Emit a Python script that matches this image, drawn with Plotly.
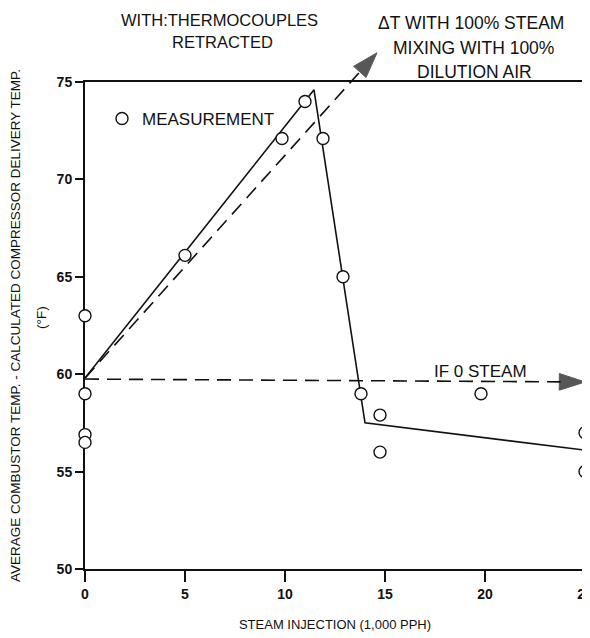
import plotly.graph_objects as go

# ---------------- data ----------------
meas_x = [0, 0, 0, 0, 5.0, 9.85, 11.0, 11.9, 12.9, 13.8, 14.75, 14.75, 19.8, 25, 25]
meas_y = [63.0, 59.0, 56.9, 56.5, 66.1, 72.1, 74.0, 72.1, 65.0, 59.0, 57.9, 56.0, 59.0, 57.0, 55.0]

trend_x = [0, 11.45, 14.0, 25]
trend_y = [59.8, 74.6, 57.5, 56.1]

mix_x = [0, 14.6]          # dT with 100% steam mixing with 100% dilution air
mix_y = [59.8, 76.5]

zero_x = [0, 25]           # if 0 steam
zero_y = [59.75, 59.6]

x_ticks = [0, 5, 10, 15, 20, 25]
y_ticks = [50, 55, 60, 65, 70, 75]
x_range = [0, 25]
y_range = [50, 75]

x_title = "STEAM INJECTION (1,000 PPH)"
y_title = "AVERAGE COMBUSTOR TEMP. - CALCULATED COMPRESSOR DELIVERY TEMP."
y_unit = "(°F)"
note_left = ["WITH:THERMOCOUPLES", "RETRACTED"]
note_right = ["ΔT WITH 100% STEAM", "MIXING WITH 100%", "DILUTION AIR"]
note_zero = "IF 0 STEAM"

# ---------------- layout geometry (screen px; page body has an 8px margin) ----------------
OFF = 8
SCREEN_W, SCREEN_H = 590, 638
W, H = SCREEN_W - OFF, SCREEN_H - OFF
PLOT_L, PLOT_R, PLOT_T, PLOT_B = 85, 585, 40, 569    # screen px of (x2,y2) area
Y_TOP_PX = 82                                          # screen px of y = 75
L = PLOT_L - OFF
R = SCREEN_W - PLOT_R
T = PLOT_T - OFF
B = SCREEN_H - PLOT_B
main_top = (PLOT_B - Y_TOP_PX) / (PLOT_B - PLOT_T)
y2_top = y_range[0] + (y_range[1] - y_range[0]) / main_top

INK = "#111111"
FONT = "Liberation Sans, Arial, Helvetica, sans-serif"


def px(xs):
    return (xs - PLOT_L) / (PLOT_R - PLOT_L)


def py(ys):
    return (PLOT_B - ys) / (PLOT_B - PLOT_T)


fig = go.Figure()

fig.add_trace(go.Scatter(
    x=trend_x, y=trend_y, mode="lines",
    line=dict(color=INK, width=1.6),
    xaxis="x", yaxis="y", showlegend=False, hoverinfo="skip"))

fig.add_trace(go.Scatter(
    x=zero_x, y=zero_y, mode="lines+markers",
    line=dict(color=INK, width=1.6, dash="14px,8px"),
    marker=dict(symbol="arrow", angleref="previous", size=[0, 27],
                color=INK, line=dict(width=1, color=INK)),
    cliponaxis=False,
    xaxis="x", yaxis="y", showlegend=False, hoverinfo="skip"))

fig.add_trace(go.Scatter(
    x=mix_x, y=mix_y, mode="lines+markers",
    line=dict(color=INK, width=1.6, dash="14px,8px"),
    marker=dict(symbol="arrow", angleref="previous", size=[0, 27],
                color=INK, line=dict(width=1, color=INK)),
    cliponaxis=False,
    xaxis="x2", yaxis="y2", showlegend=False, hoverinfo="skip"))

fig.add_trace(go.Scatter(
    x=meas_x, y=meas_y, mode="markers", name="MEASUREMENT",
    marker=dict(symbol="circle", size=12, color="white",
                line=dict(color=INK, width=1.4)),
    cliponaxis=False,
    xaxis="x", yaxis="y", showlegend=True))

tickfont = dict(family=FONT, size=14, color=INK, weight="bold")

fig.update_layout(
    width=W, height=H,
    margin=dict(l=L, r=R, t=T, b=B, autoexpand=False),
    paper_bgcolor="white", plot_bgcolor="rgba(0,0,0,0)",
    font=dict(family=FONT, color=INK),
    xaxis=dict(domain=[0, 1], range=x_range, anchor="y",
               tickvals=x_ticks, ticks="outside", ticklen=11, tickwidth=1.5,
               tickcolor=INK, showline=True, linewidth=1.6, linecolor=INK,
               mirror=True, showgrid=False, zeroline=False, tickfont=tickfont,
               ticklabeloverflow="allow",
               layer="below traces", automargin=False,
               title=dict(text=x_title, font=dict(family=FONT, size=13, color=INK),
                          standoff=19)),
    yaxis=dict(domain=[0, main_top], range=y_range, anchor="x",
               tickvals=y_ticks, ticks="outside", ticklen=8, tickwidth=1.5,
               tickcolor=INK, showline=True, linewidth=2, linecolor=INK,
               mirror=True, showgrid=False, zeroline=False, tickfont=tickfont,
               ticklabeloverflow="allow",
               layer="below traces", automargin=False,
               title=dict(text=y_title, font=dict(family=FONT, size=13.5, color=INK),
                          standoff=33)),
    xaxis3=dict(overlaying="x", anchor="y", side="bottom", range=x_range,
                tickvals=x_ticks, ticks="inside", ticklen=6, tickwidth=1.5,
                tickcolor=INK, showticklabels=False, showline=False,
                showgrid=False, zeroline=False, layer="below traces"),
    yaxis3=dict(overlaying="y", anchor="x", side="left", range=y_range,
                tickvals=y_ticks, ticks="inside", ticklen=10, tickwidth=1.5,
                tickcolor=INK, showticklabels=False, showline=False,
                showgrid=False, zeroline=False, layer="below traces"),
    yaxis4=dict(overlaying="y", anchor="x", side="right", range=y_range,
                ticks="", showticklabels=False, showline=True, linewidth=2,
                linecolor=INK, showgrid=False, zeroline=False,
                layer="below traces"),
    xaxis2=dict(domain=[0, 1], range=x_range, anchor="y2", visible=False),
    yaxis2=dict(domain=[0, 1], range=[y_range[0], y2_top], anchor="x2", visible=False),
    legend=dict(x=px(102), y=py(119), xanchor="left", yanchor="middle",
                font=dict(family=FONT, size=17, color=INK),
                bgcolor="rgba(0,0,0,0)", borderwidth=0),
    showlegend=True,
)

fig.add_annotation(text=y_unit, xref="paper", yref="paper", textangle=-90,
                   x=px(41), y=py(318), xanchor="center", yanchor="middle",
                   showarrow=False, font=dict(family=FONT, size=13.5, color=INK))

for txt, (xs, ys) in zip(note_left, [(219, 20), (222, 42)]):
    fig.add_annotation(text=txt, xref="paper", yref="paper",
                       x=px(xs), y=py(ys), xanchor="center", yanchor="middle",
                       showarrow=False, font=dict(family=FONT, size=16.5, color=INK))
for txt, (xs, ys) in zip(note_right, [(471, 23), (473, 48), (474, 72)]):
    fig.add_annotation(text=txt, xref="paper", yref="paper",
                       x=px(xs), y=py(ys), xanchor="center", yanchor="middle",
                       showarrow=False, font=dict(family=FONT, size=17.5, color=INK))
fig.add_annotation(text=note_zero, xref="paper", yref="paper",
                   x=px(480), y=py(371), xanchor="center", yanchor="middle",
                   showarrow=False, font=dict(family=FONT, size=17, color=INK))

fig.write_html("out.html")
